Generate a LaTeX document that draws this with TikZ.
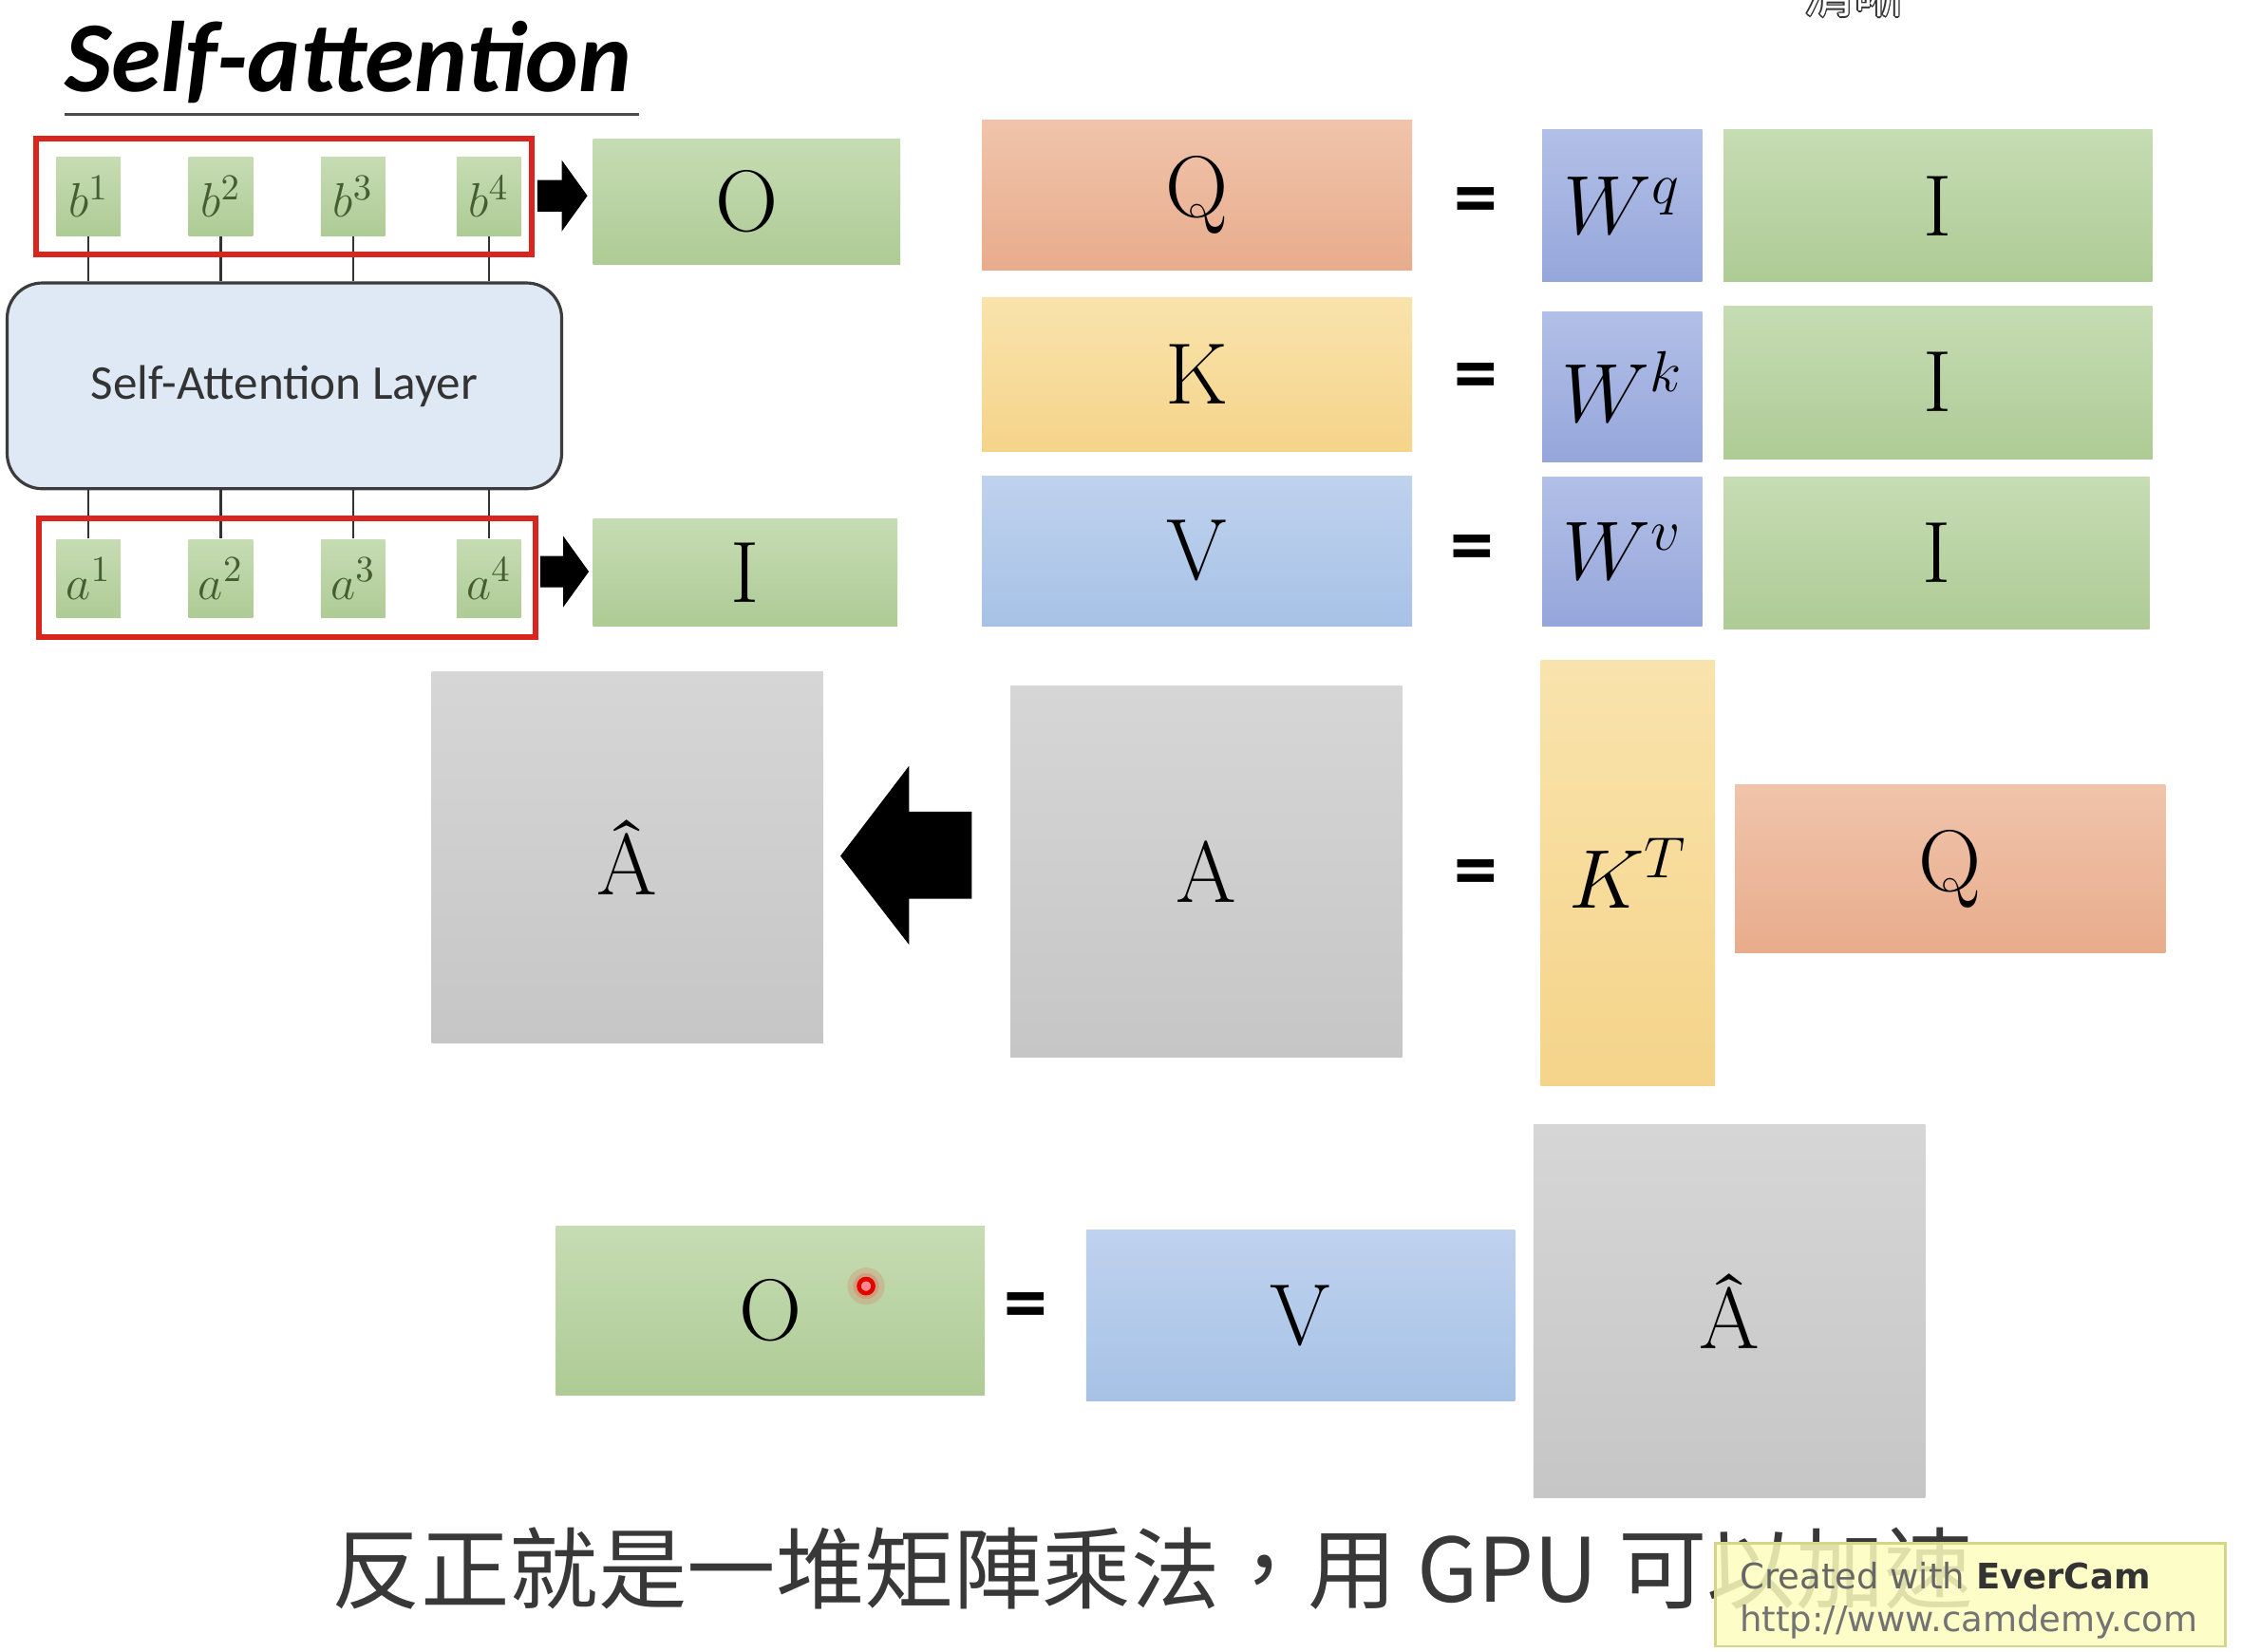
\documentclass[tikz,border=0pt]{standalone}
\usepackage{fontspec}
\newfontfamily\calibfont{Carlito}
\newfontfamily\cjkfont{Noto Sans CJK TC}
\newfontfamily\wmfont{DejaVu Sans}
\usetikzlibrary{calc}

\definecolor{gtop}{HTML}{C6DCB3}
\definecolor{gbot}{HTML}{AECB95}
\definecolor{otop}{HTML}{F0C4AB}
\definecolor{obot}{HTML}{E8AC8C}
\definecolor{ytop}{HTML}{F9E3AC}
\definecolor{ybot}{HTML}{F5D48A}
\definecolor{btop}{HTML}{BFD2EE}
\definecolor{bbot}{HTML}{A7C2E6}
\definecolor{wtop}{HTML}{B2BFE7}
\definecolor{wbot}{HTML}{95A6DA}
\definecolor{atop}{HTML}{D6D6D6}
\definecolor{abot}{HTML}{C6C6C6}
\definecolor{framered}{HTML}{D9251D}
\definecolor{layerfill}{HTML}{DEE9F5}
\definecolor{layeredge}{HTML}{3C3C3C}
\definecolor{labelgreen}{HTML}{465C33}
\definecolor{wmfill}{HTML}{FDFDBF}
\definecolor{wmedge}{HTML}{D5D58A}

\tikzset{
  wh/.style 2 args={minimum width=#1*0.015cm, minimum height=#2*0.015cm},
  mat/.style={inner sep=0pt, outer sep=0pt, font=\fontsize{26}{26}\selectfont, text=black},
  grn/.style={mat, top color=gtop, bottom color=gbot},
  org/.style={mat, top color=otop, bottom color=obot},
  ylw/.style={mat, top color=ytop, bottom color=ybot},
  blu/.style={mat, top color=btop, bottom color=bbot},
  wgt/.style={mat, top color=wtop, bottom color=wbot, font=\fontsize{24}{24}\selectfont},
  gry/.style={mat, top color=atop, bottom color=abot},
  eqsign/.style={font={\calibfont\bfseries\fontsize{26}{26}\selectfont}, inner sep=0pt},
  vec/.style={inner sep=0pt, top color=gtop, bottom color=gbot, wh={45}{55},
    font=\fontsize{15}{15}\selectfont, text=labelgreen},
  redframe/.style={draw=framered, line width=1.7pt, inner sep=0pt},
  wire/.style={draw=black!80, line width=0.6pt},
  blockarrow/.style={fill=black},
}

\begin{document}
\begin{tikzpicture}[x=0.015cm, y=-0.015cm]
\useasboundingbox (0,0) rectangle (1568,1156);
\fill[white] (0,0) rectangle (1568,1156);
\begin{scope}
\clip (0,0) rectangle (1568,1156);

% player label at the top edge (outlined white text)
\foreach \dx/\dy [count=\i] in {-1/0,1/0,0/-1,0/1,-0.7/-0.7,0.7/-0.7,-0.7/0.7,0.7/0.7}
  \node[anchor=base west, inner sep=0pt, font={\cjkfont\fontsize{15}{15}\selectfont}, text=black!80]
    (hd\i) at (1262+\dx,9+\dy) {清晰};
\node[anchor=base west, inner sep=0pt, font={\cjkfont\fontsize{15}{15}\selectfont}, text=white]
  (hd) at (1262,9) {清晰};

% title
\node[anchor=base west, inner sep=0pt, font={\calibfont\bfseries\itshape\fontsize{30}{30}\selectfont}]
  (title) at (45,64) {Self-attention};
\draw[black!70, line width=0.7pt] (45,80) -- (447,80);

% self-attention layer with its inputs and outputs
\node[draw=layeredge, line width=0.9pt, fill=layerfill, rounded corners=0.37cm,
  wh={388}{144}, inner sep=0pt, font={\calibfont\fontsize{14.5}{14.5}\selectfont}, text=black!80]
  (layer) at (199,270) {Self-Attention Layer};

\foreach \n/\x in {1/62,2/154.5,3/247,4/342} {
  \node[vec] (b\n) at (\x,137.5) {$b^{\n}$};
  \node[vec] (a\n) at (\x,405) {$a^{\n}$};
  \draw[wire] (b\n.south) -- (b\n.south |- layer.north);
  \draw[wire] (a\n.north |- layer.south) -- (a\n.north);
}

\node[redframe, wh={347}{81}] (rb) at (198.5,137.5) {};
\node[redframe, wh={348}{83}] (ra) at (201,404.5) {};

\fill[blockarrow] (376,126) -- (393,126) -- (393,112) -- (411,137) -- (393,162)
  -- (393,148) -- (376,148) -- cycle;
\fill[blockarrow] (378,389) -- (394,389) -- (394,375) -- (412,400) -- (394,425)
  -- (394,411) -- (378,411) -- cycle;

\node[grn, wh={215}{88}] (Otop) at (522.5,141) {O};
\node[grn, wh={213}{75}] (Ileft) at (521.5,400.5) {I};

% Q, K, V projections
\node[org, wh={301}{105}] (Q) at (837.5,136.5) {Q};
\node[eqsign] (e1) at (1033,145) {=};
\node[wgt, wh={112}{106}] (Wq) at (1135,144) {$W^q$};
\node[grn, wh={300}{106}] (I1) at (1356,144) {I};

\node[ylw, wh={301}{108}] (K) at (837.5,262) {K};
\node[eqsign] (e2) at (1033,268) {=};
\node[wgt, wh={112}{105}] (Wk) at (1135,270.5) {$W^k$};
\node[grn, wh={300}{107}] (I2) at (1356,267.5) {I};

\node[blu, wh={301}{105}] (V) at (837.5,385.5) {V};
\node[eqsign] (e3) at (1030,388) {=};
\node[wgt, wh={112}{104}] (Wv) at (1135,386) {$W^v$};
\node[grn, wh={298}{106}] (I3) at (1355,387) {I};

% attention matrix
\node[gry, wh={274}{260}] (Ahat) at (439,600) {Â};
\fill[blockarrow] (680,568) -- (636,568) -- (636,536) -- (588,599) -- (636,661)
  -- (636,629) -- (680,629) -- cycle;
\node[gry, wh={274}{260}] (A) at (844,610) {A};
\node[eqsign] (e4) at (1033,615) {=};
\node[ylw, wh={122}{298}] (KT) at (1139,611) {$K^T$};
\node[org, wh={301}{118}] (Q2) at (1364.5,608) {Q};

% output
\node[grn, wh={300}{118}] (O2) at (539,917) {O};
\node[eqsign] (e5) at (718,918) {=};
\node[blu, wh={300}{119}] (V2) at (910,920.5) {V};
\node[gry, wh={274}{261}] (Ahat2) at (1210,917.5) {Â};

% pointer
\fill[red, opacity=0.12] (606,900) circle (13);
\fill[red, opacity=0.15] (606,900) circle (9);
\draw[red!90!black, line width=1.3pt, fill=red!45] (606,900) circle (5);

% subtitle
\node[anchor=base west, inner sep=0pt, font={\cjkfont\fontsize{26.5}{26.5}\selectfont}, text=black!78]
  (sub) at (232,1121) {反正就是一堆矩陣乘法，用 GPU 可以加速};

% recorder watermark
\node[draw=wmedge, line width=0.8pt, fill=wmfill, fill opacity=0.85, draw opacity=1,
  wh={357}{72}, inner sep=0pt] (wm) at (1378.5,1116) {};
\node[anchor=base west, inner sep=0pt, font={\wmfont\fontsize{10.5}{10.5}\selectfont}, text=black!60]
  (wm1) at (1217,1112) {Created with \textbf{\textcolor{black!80}{EverCam}}};
\node[anchor=base west, inner sep=0pt, font={\wmfont\fontsize{10.5}{10.5}\selectfont}, text=black!55]
  (wm2) at (1217,1142) {http://www.camdemy.com};
\end{scope}
\end{tikzpicture}
\end{document}
